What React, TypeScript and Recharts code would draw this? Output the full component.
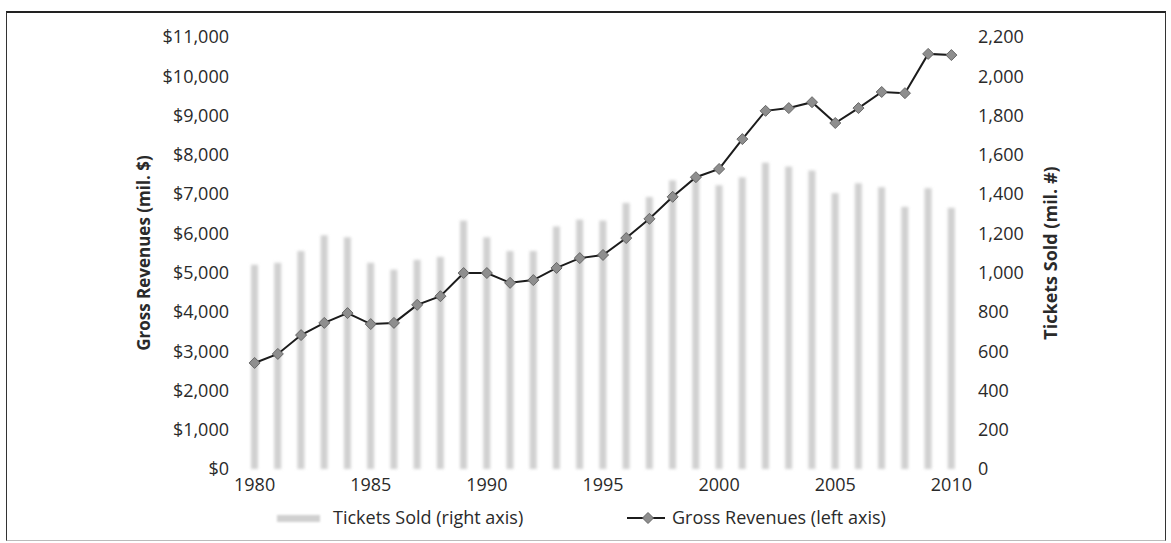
import { Bar, ComposedChart, Line, XAxis, YAxis } from 'recharts'

const years = [
  '1980', '1981', '1982', '1983', '1984', '1985', '1986', '1987', '1988', '1989',
  '1990', '1991', '1992', '1993', '1994', '1995', '1996', '1997', '1998', '1999',
  '2000', '2001', '2002', '2003', '2004', '2005', '2006', '2007', '2008', '2009', '2010',
]

// gross box office revenues, millions of dollars (left axis)
const revenues = [
  2700, 2930, 3410, 3720, 3970, 3690, 3720, 4180, 4400, 4990,
  4990, 4740, 4810, 5120, 5370, 5450, 5880, 6370, 6930, 7430,
  7640, 8400, 9120, 9190, 9340, 8810, 9190, 9600, 9570, 10570, 10540,
]

// tickets sold, millions (right axis)
const tickets = [
  1040, 1050, 1110, 1190, 1180, 1050, 1015, 1065, 1080, 1265,
  1180, 1110, 1110, 1235, 1270, 1265, 1355, 1385, 1470, 1485,
  1445, 1485, 1560, 1540, 1520, 1405, 1455, 1435, 1335, 1430, 1330,
]

const revenueTicks = [0, 1000, 2000, 3000, 4000, 5000, 6000, 7000, 8000, 9000, 10000, 11000]
const ticketTicks = [0, 200, 400, 600, 800, 1000, 1200, 1400, 1600, 1800, 2000, 2200]

const data = years.map((year, i) => ({ year, revenue: revenues[i], tickets: tickets[i] }))

const FONT = '"Open Sans", Lato, sans-serif'
const INK = '#2a2a2a'
const BAR_FILL = '#d0d0d0'

const tickStyle = { fill: INK, fontSize: 18, fontFamily: FONT }

function Diamond(props: any) {
  const { cx, cy } = props
  if (cx == null || cy == null) return null
  const r = 5.5
  return (
    <polygon
      points={`${cx},${cy - r} ${cx + r},${cy} ${cx},${cy + r} ${cx - r},${cy}`}
      fill="#8e8e8e"
      stroke="#666"
      strokeWidth={1}
    />
  )
}

function SoftBar(props: any) {
  const { x, y, width, height } = props
  return <rect x={x} y={y} width={width} height={height} fill={BAR_FILL} filter="url(#soft)" />
}

function AxisTitle({ viewBox, value, dx, size }: any) {
  const cx = viewBox.x + dx
  const cy = viewBox.y + viewBox.height / 2
  return (
    <text
      x={cx}
      y={cy}
      transform={`rotate(-90 ${cx} ${cy})`}
      textAnchor="middle"
      dominantBaseline="central"
      fill={INK}
      fontSize={size}
      fontWeight={700}
      fontFamily={FONT}
    >
      {value}
    </text>
  )
}

function LegendRow() {
  const text = { fontFamily: FONT, fontSize: 18, color: INK, whiteSpace: 'nowrap' as const }
  return (
    <>
      <div style={{ position: 'absolute', left: 277, top: 515, width: 43, height: 7, background: BAR_FILL, filter: 'blur(1.2px)' }} />
      <div style={{ ...text, position: 'absolute', left: 333, top: 505 }}>Tickets Sold (right axis)</div>
      <svg style={{ position: 'absolute', left: 627, top: 511 }} width={40} height={14}>
        <line x1={0} y1={7} x2={38} y2={7} stroke="#1c1c1c" strokeWidth={2} />
        <polygon points="21,1.5 26.5,7 21,12.5 15.5,7" fill="#8e8e8e" stroke="#666" strokeWidth={1} />
      </svg>
      <div style={{ ...text, position: 'absolute', left: 672, top: 505 }}>Gross Revenues (left axis)</div>
    </>
  )
}

export default function App() {
  return (
    <div style={{ position: 'absolute', left: 0, top: 0, width: 1171, height: 543, background: '#fff' }}>
      <div
        style={{
          position: 'absolute',
          left: 6,
          top: 11,
          width: 1158,
          height: 527,
          borderTop: '2px solid #222',
          borderLeft: '1.5px solid #333',
          borderRight: '1.5px solid #333',
          borderBottom: '1px solid #bbb',
        }}
      />
      <ComposedChart
        width={1171}
        height={543}
        data={data}
        margin={{ top: 37, right: 0, bottom: 44, left: 0 }}
        style={{ position: 'absolute', left: 0, top: 0 }}
      >
        <defs>
          <filter id="soft" x="-100%" y="-5%" width="300%" height="110%">
            <feGaussianBlur stdDeviation="1.5" />
          </filter>
        </defs>
        <XAxis
          dataKey="year"
          interval={4}
          axisLine={false}
          tickLine={false}
          tickSize={0}
          tickMargin={9}
          height={30}
          tick={tickStyle}
        />
        <YAxis
          yAxisId="rev"
          orientation="left"
          width={243}
          domain={[0, 11000]}
          ticks={revenueTicks}
          interval={0}
          axisLine={false}
          tickLine={false}
          tickSize={0}
          tickMargin={14}
          tick={tickStyle}
          tickFormatter={(v: number) => '$' + v.toLocaleString('en-US')}
          label={{ content: (p: any) => <AxisTitle {...p} value="Gross Revenues (mil. $)" dx={143} size={17} /> }}
        />
        <YAxis
          yAxisId="tix"
          orientation="right"
          width={208}
          domain={[0, 2200]}
          ticks={ticketTicks}
          interval={0}
          axisLine={false}
          tickLine={false}
          tickSize={0}
          tickMargin={15}
          tick={tickStyle}
          tickFormatter={(v: number) => v.toLocaleString('en-US')}
          label={{ content: (p: any) => <AxisTitle {...p} value="Tickets Sold (mil. #)" dx={87} size={18} /> }}
        />
        <Bar
          yAxisId="tix"
          dataKey="tickets"
          barSize={7}
          shape={SoftBar}
          isAnimationActive={false}
        />
        <Line
          yAxisId="rev"
          dataKey="revenue"
          type="linear"
          stroke="#1c1c1c"
          strokeWidth={2}
          dot={Diamond}
          activeDot={false}
          isAnimationActive={false}
        />
      </ComposedChart>
      <LegendRow />
    </div>
  )
}
